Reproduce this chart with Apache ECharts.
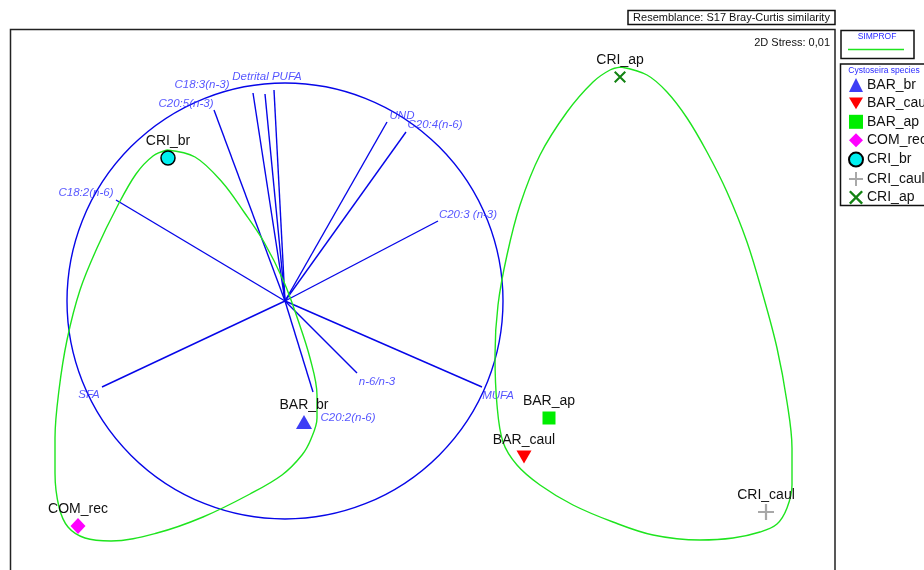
<!DOCTYPE html>
<html><head><meta charset="utf-8">
<script src="https://cdn.jsdelivr.net/npm/echarts/dist/echarts.min.js"></script>
<style>html,body{margin:0;padding:0;background:#fff}#c{width:924px;height:570px}</style>
</head><body><div id="c"></div><script>
// ---- samples (nMDS coordinates) ----
const species = ['BAR_br','BAR_caul','BAR_ap','COM_rec','CRI_br','CRI_caul','CRI_ap'];
const speciesX = [0.19, 2.39, 2.64, -2.07, -1.17, 4.81, 3.35];
const speciesY = [-1.21, -1.56, -1.17, -2.25, 1.43, -2.11, 2.24];

// ---- vectors (correlation of variables) ----
const vecNames = ['C20:5(n-3)','C18:3(n-3)','','Detrital PUFA','UND','C20:4(n-6)','C20:3 (n-3)','C18:2(n-6)','SFA','C20:2(n-6)','n-6/n-3','MUFA'];
const vecX = [-0.71, -0.32, -0.20, -0.11, 1.02, 1.21, 1.53, -1.69, -1.83, 0.28, 0.72, 1.97];
const vecY = [1.91, 2.08, 2.07, 2.11, 1.79, 1.69, 0.80, 1.01, -0.86, -0.91, -0.72, -0.86];
const vecLabelX = [-0.99, -0.83, null, -0.18, 1.17, 1.50, 1.83, -1.99, -1.96, 0.63, 0.92, 2.13];
const vecLabelY = [1.97, 2.16, null, 2.24, 1.85, 1.76, 0.86, 1.08, -0.94, -1.17, -0.81, -0.95];
const circleRadius = 2.18;

// ---- SIMPROF group contours ----
const groupAX = [-1.18,-0.90,-0.63,-0.41,-0.21,-0.01,0.13,0.25,0.32,0.32,0.26,0.17,-0.03,-0.35,-0.82,-1.28,-1.74,-2.00,-2.17,-2.26,-2.30,-2.30,-2.26,-2.18,-2.05,-1.88,-1.68,-1.49,-1.32,-1.18];
const groupAY = [1.51,1.44,1.19,0.89,0.59,0.19,-0.19,-0.57,-0.94,-1.17,-1.38,-1.54,-1.74,-1.93,-2.16,-2.32,-2.40,-2.37,-2.26,-2.06,-1.72,-1.37,-0.89,-0.39,0.11,0.53,0.94,1.27,1.45,1.51];
const groupBX = [3.36,3.62,3.82,4.02,4.22,4.42,4.62,4.78,4.92,5.02,5.07,5.07,5.02,4.92,4.75,4.48,4.15,3.68,3.28,2.88,2.55,2.32,2.18,2.12,2.10,2.13,2.22,2.35,2.55,2.82,3.08,3.25,3.36];
const groupBY = [2.34,2.26,2.09,1.83,1.49,1.09,0.59,0.06,-0.47,-1.01,-1.47,-1.84,-2.07,-2.23,-2.31,-2.37,-2.39,-2.34,-2.21,-2.04,-1.84,-1.64,-1.41,-1.04,-0.54,-0.04,0.46,0.96,1.46,1.89,2.19,2.31,2.34];

// ---- styles ----
const FONT = 'Liberation Sans, Arial, sans-serif';
const PLUS = 'path://M8.6,0 L11.4,0 L11.4,8.6 L20,8.6 L20,11.4 L11.4,11.4 L11.4,20 L8.6,20 L8.6,11.4 L0,11.4 L0,8.6 L8.6,8.6 Z';
const CROSS = 'path://M0,1.2 L1.2,0 L10,8.8 L8.8,10 Z M8.8,0 L10,1.2 L1.2,10 L0,8.8 Z';
const DOWNTRI = 'path://M0,0 L12,0 L6,10 Z';
const symStyle = [
  {symbol:'triangle', size:[16,14], color:'#3d3df5'},
  {symbol:DOWNTRI, size:[15,13], color:'#ff0000'},
  {symbol:'rect', size:13, color:'#00ee00'},
  {symbol:'diamond', size:[15,16], color:'#ff00ff'},
  {symbol:'circle', size:14, color:'#00f0f0', border:'#000'},
  {symbol:PLUS, size:16, color:'#a8a8a8'},
  {symbol:CROSS, size:12, color:'#128212'}
];

const series = [];
// blue vector circle
series.push({
  type:'custom', silent:true, z:2,
  data:[[0,0]],
  renderItem:function(params, api){
    const c = api.coord([0,0]);
    const s = api.size([circleRadius, circleRadius]);
    return {type:'circle', shape:{cx:c[0], cy:c[1], r:s[0]}, style:{fill:'none', stroke:'#0606e8', lineWidth:1.4}};
  }
});
// vectors
series.push({
  type:'lines', coordinateSystem:'cartesian2d', silent:true, z:3,
  lineStyle:{color:'#0606e8', width:1.4, opacity:1},
  data: vecX.map((x,i)=>({coords:[[0,0],[x, vecY[i]]]}))
});
// vector labels
series.push({
  type:'scatter', silent:true, z:4, symbolSize:0,
  data: vecNames.map((n,i)=> vecLabelX[i]===null ? null : {name:n, value:[vecLabelX[i], vecLabelY[i]]}).filter(d=>d),
  label:{show:true, position:'inside', formatter:'{b}', color:'#2c2cff', fontStyle:'italic', fontSize:11.5, fontFamily:FONT}
});
// SIMPROF contours
[[groupAX,groupAY],[groupBX,groupBY]].forEach(g=>{
  series.push({
    type:'line', silent:true, z:5, smooth:0.35, showSymbol:false, symbol:'none',
    lineStyle:{color:'#1ee41e', width:1.4},
    data: g[0].map((x,i)=>[x, g[1][i]])
  });
});
// samples
species.forEach((s,i)=>{
  const st = symStyle[i];
  series.push({
    name:s, type:'scatter', z:10,
    symbol:st.symbol, symbolSize:st.size,
    itemStyle:{color:st.color, opacity:1, borderColor:st.border||st.color, borderWidth:st.border?1.5:0},
    label:{show:true, position:'inside', offset:[0,-17], formatter:s, color:'#111', fontSize:14, fontFamily:FONT},
    data:[[speciesX[i], speciesY[i]]]
  });
});

const chart = echarts.init(document.getElementById('c'), null, {renderer:'canvas'});
chart.setOption({
  animation:false,
  backgroundColor:'#fff',
  grid:{left:10, top:29, width:825, height:541, show:false, containLabel:false},
  xAxis:{type:'value', min:-2.75, max:5.5, show:false},
  yAxis:{type:'value', min:-2.69, max:2.72, show:false},
  legend:{
    data:species, orient:'vertical', left:843, top:73, itemWidth:14, itemHeight:14, itemGap:4.4,
    textStyle:{fontSize:14, color:'#111', fontFamily:FONT, lineHeight:14, padding:[0,0,0,-1]},
    selectedMode:false
  },
  graphic:[
    {type:'polyline', shape:{points:[[10.5,572],[10.5,29.5],[835,29.5],[835,572]]}, style:{fill:'none', stroke:'#222', lineWidth:1.5}},
    {type:'rect', shape:{x:628, y:10.5, width:207, height:14}, style:{fill:'#fff', stroke:'#111', lineWidth:1.5}},
    {type:'text', x:731.5, y:17.5, style:{text:'Resemblance: S17 Bray-Curtis similarity', font:'11px '+FONT, fill:'#111', align:'center', verticalAlign:'middle'}},
    {type:'text', x:830, y:43, style:{text:'2D Stress: 0,01', font:'11px '+FONT, fill:'#111', align:'right', verticalAlign:'middle'}},
    {type:'rect', shape:{x:841, y:30.5, width:73, height:28}, style:{fill:'#fff', stroke:'#111', lineWidth:1.5}},
    {type:'text', x:877, y:37, style:{text:'SIMPROF', font:'8.5px '+FONT, fill:'#2828ff', align:'center', verticalAlign:'middle'}},
    {type:'line', shape:{x1:848, y1:49.5, x2:904, y2:49.5}, style:{stroke:'#1ee41e', lineWidth:1.3}},
    {type:'rect', z:-1, shape:{x:840.5, y:64, width:100, height:141.5}, style:{fill:'#fff', stroke:'#111', lineWidth:1.5}},
    {type:'text', x:884, y:70.5, style:{text:'Cystoseira species', font:'8.5px '+FONT, fill:'#2828ff', align:'center', verticalAlign:'middle'}}
  ],
  series:series
});
</script></body></html>
